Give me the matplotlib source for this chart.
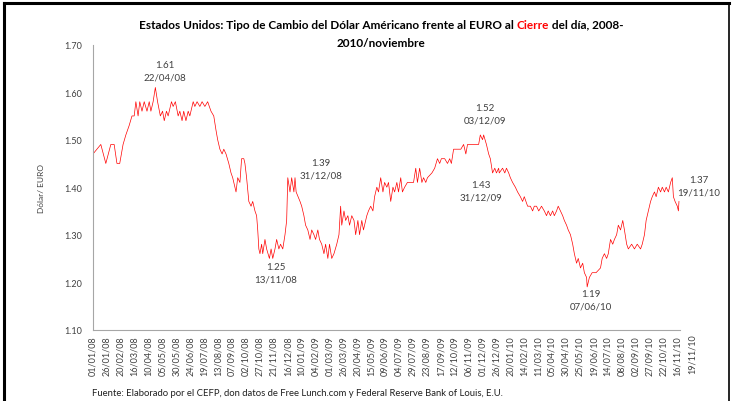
import matplotlib
matplotlib.use("Agg")
import matplotlib.pyplot as plt
import matplotlib.dates as mdates
from matplotlib.lines import Line2D
import pandas as pd

plt.rcParams['font.family'] = ['Lato', 'DejaVu Sans']

fechas = [
    "2008-01-01", "2008-01-15", "2008-01-24", "2008-02-02", "2008-02-08", "2008-02-13", "2008-02-18",
    "2008-02-24", "2008-02-29", "2008-03-06", "2008-03-11", "2008-03-15", "2008-03-18", "2008-03-22",
    "2008-03-25", "2008-03-29", "2008-04-02", "2008-04-07", "2008-04-11", "2008-04-14", "2008-04-18",
    "2008-04-22", "2008-04-26", "2008-05-01", "2008-05-05", "2008-05-08", "2008-05-12", "2008-05-15",
    "2008-05-21", "2008-05-24", "2008-05-28", "2008-06-02", "2008-06-05", "2008-06-09", "2008-06-12",
    "2008-06-16", "2008-06-20", "2008-06-23", "2008-06-29", "2008-07-02", "2008-07-06", "2008-07-11",
    "2008-07-15", "2008-07-20", "2008-07-25", "2008-07-31", "2008-08-05", "2008-08-09", "2008-08-12",
    "2008-08-16", "2008-08-20", "2008-08-23", "2008-08-27", "2008-09-01", "2008-09-05", "2008-09-08",
    "2008-09-14", "2008-09-17", "2008-09-21", "2008-09-24", "2008-09-28", "2008-09-30", "2008-10-03",
    "2008-10-07", "2008-10-11", "2008-10-14", "2008-10-18", "2008-10-21", "2008-10-23", "2008-10-25",
    "2008-10-27", "2008-10-30", "2008-11-01", "2008-11-05", "2008-11-08", "2008-11-13", "2008-11-16",
    "2008-11-19", "2008-11-23", "2008-11-26", "2008-11-30", "2008-12-03", "2008-12-07", "2008-12-11",
    "2008-12-14", "2008-12-16", "2008-12-20", "2008-12-23", "2008-12-27", "2008-12-29", "2008-12-31",
    "2009-01-07", "2009-01-10", "2009-01-14", "2009-01-17", "2009-01-21", "2009-01-25", "2009-01-28",
    "2009-02-01", "2009-02-04", "2009-02-08", "2009-02-11", "2009-02-15", "2009-02-19", "2009-02-22",
    "2009-02-26", "2009-03-01", "2009-03-05", "2009-03-09", "2009-03-14", "2009-03-18", "2009-03-21",
    "2009-03-23", "2009-03-27", "2009-03-30", "2009-04-03", "2009-04-06", "2009-04-10", "2009-04-14",
    "2009-04-17", "2009-04-21", "2009-04-24", "2009-04-28", "2009-05-01", "2009-05-07", "2009-05-10",
    "2009-05-14", "2009-05-18", "2009-05-21", "2009-05-25", "2009-05-28", "2009-06-01", "2009-06-05",
    "2009-06-08", "2009-06-12", "2009-06-15", "2009-06-19", "2009-06-23", "2009-06-26", "2009-06-30",
    "2009-07-03", "2009-07-07", "2009-07-10", "2009-07-14", "2009-07-19", "2009-07-25", "2009-07-30",
    "2009-08-03", "2009-08-06", "2009-08-10", "2009-08-14", "2009-08-17", "2009-08-21", "2009-08-24",
    "2009-09-01", "2009-09-06", "2009-09-11", "2009-09-15", "2009-09-18", "2009-09-24", "2009-09-29",
    "2009-10-03", "2009-10-06", "2009-10-10", "2009-10-15", "2009-10-23", "2009-10-28", "2009-11-01",
    "2009-11-04", "2009-11-10", "2009-11-17", "2009-11-24", "2009-11-27", "2009-12-01", "2009-12-03",
    "2009-12-08", "2009-12-12", "2009-12-15", "2009-12-19", "2009-12-23", "2009-12-26", "2009-12-30",
    "2009-12-31", "2010-01-06", "2010-01-10", "2010-01-13", "2010-01-17", "2010-01-20", "2010-01-24",
    "2010-01-29", "2010-02-02", "2010-02-07", "2010-02-11", "2010-02-14", "2010-02-20", "2010-02-25",
    "2010-03-01", "2010-03-04", "2010-03-08", "2010-03-12", "2010-03-17", "2010-03-22", "2010-03-26",
    "2010-03-29", "2010-04-02", "2010-04-06", "2010-04-09", "2010-04-13", "2010-04-16", "2010-04-20",
    "2010-04-24", "2010-04-27", "2010-05-01", "2010-05-04", "2010-05-08", "2010-05-12", "2010-05-15",
    "2010-05-19", "2010-05-22", "2010-05-26", "2010-05-30", "2010-06-02", "2010-06-06", "2010-06-07",
    "2010-06-11", "2010-06-16", "2010-06-23", "2010-07-01", "2010-07-04", "2010-07-08", "2010-07-12",
    "2010-07-15", "2010-07-19", "2010-07-23", "2010-07-26", "2010-07-30", "2010-08-02", "2010-08-06",
    "2010-08-10", "2010-08-13", "2010-08-17", "2010-08-20", "2010-08-26", "2010-08-31", "2010-09-05",
    "2010-09-11", "2010-09-14", "2010-09-18", "2010-09-21", "2010-09-25", "2010-09-29", "2010-10-02",
    "2010-10-06", "2010-10-09", "2010-10-13", "2010-10-17", "2010-10-20", "2010-10-24", "2010-10-27",
    "2010-10-31", "2010-11-04", "2010-11-07", "2010-11-09", "2010-11-12", "2010-11-16", "2010-11-18",
    "2010-11-19",
]

tipo_cambio = [
    1.47, 1.49, 1.45, 1.49, 1.49, 1.45, 1.45,
    1.49, 1.51, 1.53, 1.55, 1.55, 1.58, 1.55,
    1.58, 1.56, 1.58, 1.56, 1.58, 1.56, 1.58,
    1.61, 1.58, 1.55, 1.56, 1.54, 1.56, 1.55,
    1.58, 1.57, 1.58, 1.55, 1.56, 1.54, 1.56,
    1.54, 1.56, 1.55, 1.58, 1.57, 1.58, 1.57,
    1.58, 1.57, 1.58, 1.56, 1.55, 1.52, 1.50,
    1.48, 1.47, 1.48, 1.47, 1.45, 1.43, 1.42,
    1.39, 1.42, 1.41, 1.46, 1.46, 1.45, 1.42,
    1.37, 1.36, 1.37, 1.35, 1.34, 1.31, 1.27,
    1.26, 1.28, 1.26, 1.29, 1.27, 1.25, 1.27,
    1.25, 1.27, 1.29, 1.27, 1.28, 1.27, 1.30,
    1.33, 1.42, 1.39, 1.42, 1.39, 1.42, 1.39,
    1.37, 1.36, 1.34, 1.32, 1.31, 1.29, 1.31,
    1.30, 1.29, 1.31, 1.29, 1.28, 1.26, 1.28,
    1.25, 1.28, 1.25, 1.26, 1.28, 1.30, 1.36,
    1.32, 1.35, 1.33, 1.34, 1.32, 1.34, 1.33,
    1.30, 1.33, 1.30, 1.33, 1.31, 1.34, 1.35,
    1.36, 1.35, 1.38, 1.40, 1.39, 1.42, 1.39,
    1.41, 1.40, 1.41, 1.37, 1.40, 1.39, 1.41,
    1.39, 1.42, 1.39, 1.40, 1.41, 1.41, 1.41,
    1.44, 1.41, 1.44, 1.41, 1.42, 1.41, 1.42,
    1.43, 1.44, 1.46, 1.45, 1.46, 1.46, 1.45,
    1.46, 1.45, 1.48, 1.48, 1.48, 1.49, 1.47,
    1.49, 1.49, 1.49, 1.49, 1.51, 1.50, 1.51,
    1.49, 1.47, 1.46, 1.43, 1.44, 1.43, 1.44,
    1.43, 1.44, 1.43, 1.44, 1.43, 1.42, 1.41,
    1.40, 1.39, 1.38, 1.37, 1.38, 1.36, 1.36,
    1.35, 1.36, 1.36, 1.35, 1.36, 1.35, 1.34,
    1.35, 1.34, 1.35, 1.34, 1.35, 1.36, 1.35,
    1.34, 1.33, 1.32, 1.31, 1.30, 1.28, 1.26,
    1.24, 1.25, 1.23, 1.24, 1.22, 1.21, 1.19,
    1.21, 1.22, 1.22, 1.23, 1.25, 1.26, 1.25,
    1.26, 1.29, 1.28, 1.29, 1.30, 1.32, 1.31,
    1.33, 1.31, 1.28, 1.27, 1.28, 1.27, 1.28,
    1.27, 1.28, 1.30, 1.33, 1.35, 1.37, 1.38,
    1.39, 1.38, 1.40, 1.39, 1.40, 1.39, 1.40,
    1.39, 1.41, 1.42, 1.38, 1.37, 1.36, 1.35,
    1.37,
]

# etiquetas de los puntos destacados: fecha, texto y desplazamiento (px)
marcas_fecha = ["2008-04-22", "2008-11-13", "2008-12-31", "2009-12-03", "2009-12-31", "2010-06-07", "2010-11-19"]
marcas_texto = ["1.61\n22/04/08", "1.25\n13/11/08", "1.39\n31/12/08", "1.52\n03/12/09",
                "1.43\n31/12/09", "1.19\n07/06/10", "1.37\n19/11/10"]
marcas_dx = [10, 6, 25, 1, -18, 4, 20]
marcas_dy = [17, -14, 23, 21, -18, -13, 16]

fechas = pd.to_datetime(fechas)
gris = '#404040'

fig = plt.figure(figsize=(7.33, 4.02), dpi=100)
ax = fig.add_axes([0.1269, 0.1774, 0.8009, 0.7089])

ax.plot(fechas, tipo_cambio, color='#ff0000', linewidth=0.5)

for f, t, dx, dy in zip(marcas_fecha, marcas_texto, marcas_dx, marcas_dy):
    v = tipo_cambio[list(fechas).index(pd.Timestamp(f))]
    ax.annotate(t, xy=(pd.Timestamp(f), v), xytext=(dx, dy), textcoords='offset pixels',
                ha='center', va='center', fontsize=7, color=gris, linespacing=1.45)

ax.set_ylim(1.10, 1.70)
ax.set_yticks([1.10, 1.20, 1.30, 1.40, 1.50, 1.60, 1.70])
ax.yaxis.set_major_formatter(plt.FormatStrFormatter('%.2f'))
ax.set_xlim(pd.Timestamp("2008-01-01"), pd.Timestamp("2010-11-21"))
ticks = pd.date_range("2008-01-01", "2010-11-16", freq="25D")
ax.set_xticks(ticks)
ax.xaxis.set_major_formatter(mdates.DateFormatter('%d/%m/%y'))
ax.tick_params(axis='x', rotation=90, labelsize=6.5, labelcolor=gris, length=0, pad=4)
ax.tick_params(axis='y', labelsize=6.5, labelcolor=gris, length=0, pad=8)
ax.annotate("19/11/10", xy=(mdates.date2num(pd.Timestamp("2010-11-19")), 0),
            xycoords=ax.get_xaxis_transform(),
            xytext=(13, -4), textcoords='offset pixels', rotation=90, ha='center', va='top',
            fontsize=6.5, color=gris)

for s in ['top', 'right']:
    ax.spines[s].set_visible(False)
for s in ['left', 'bottom']:
    ax.spines[s].set_color('#a6a6a6')
    ax.spines[s].set_linewidth(0.8)

ax.set_ylabel("Dólar/ EURO", fontsize=6, color=gris, labelpad=14)

# título en tres trozos para poner "Cierre" en rojo, centrado en x=0.52
partes = ["Estados Unidos: Tipo de Cambio del Dólar Américano frente al EURO al ", "Cierre", " del día, 2008-"]
colores = ['black', '#ff0000', 'black']
textos = []
x = 0.0
for p, c in zip(partes, colores):
    t = fig.text(x, 0.937, p, ha='left', va='center', fontsize=8.5, fontweight='bold', color=c)
    textos.append(t)
r = fig.canvas.get_renderer()
anchos = [t.get_window_extent(r).width / fig.bbox.width for t in textos]
x = 0.52 - sum(anchos) / 2
for t, w in zip(textos, anchos):
    t.set_x(x)
    x += w
fig.text(0.52, 0.892, "2010/noviembre", ha='center', va='center', fontsize=8.5, fontweight='bold')

fig.text(0.125, 0.02, "Fuente: Elaborado por el CEFP, don datos de Free Lunch.com y Federal Reserve Bank of Louis, E.U.",
         ha='left', va='center', fontsize=6.8, color='#202020')

# marco negro de la imagen
fig.add_artist(Line2D([0.006, 0.006], [0, 0.991], color='black', linewidth=2.2, transform=fig.transFigure))
fig.add_artist(Line2D([0.006, 0.994], [0.991, 0.991], color='black', linewidth=2.2, transform=fig.transFigure))
fig.add_artist(Line2D([0.994, 0.994], [0, 0.991], color='black', linewidth=1.2, transform=fig.transFigure))

fig.savefig("out.png", dpi=100)
